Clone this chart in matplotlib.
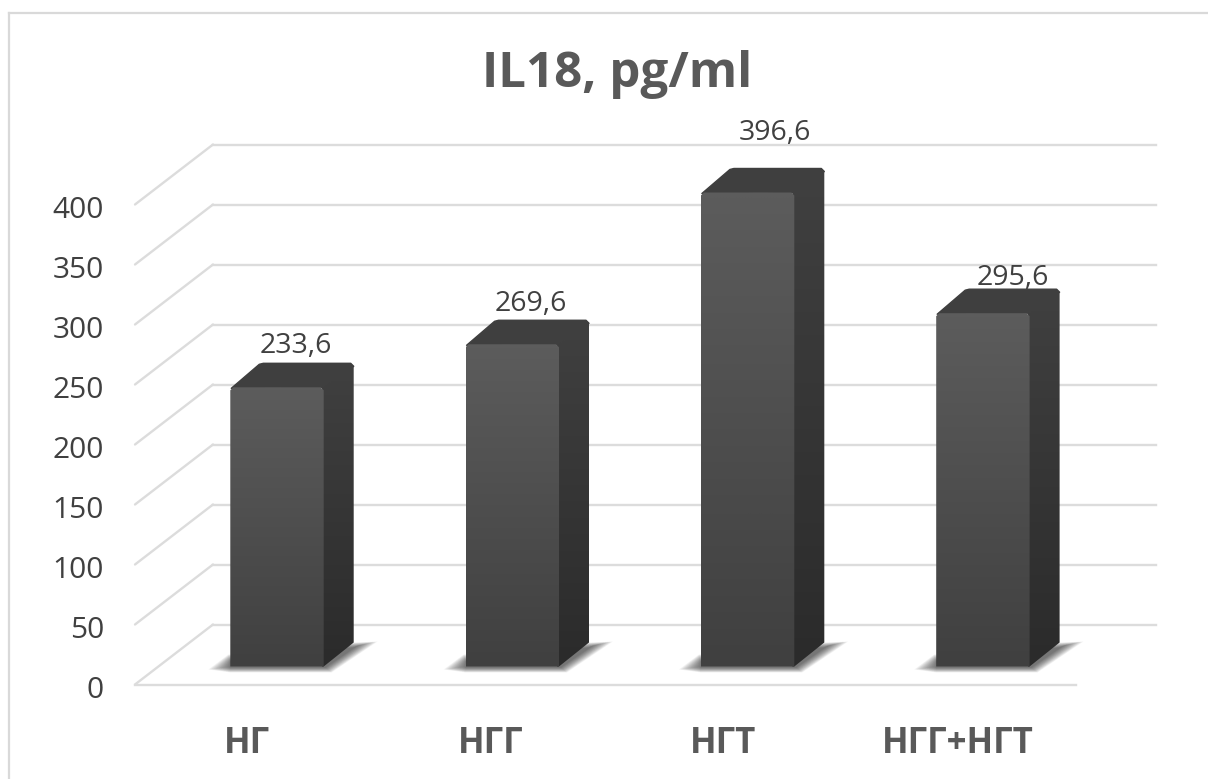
import numpy as np
import matplotlib
matplotlib.use("Agg")
import matplotlib.pyplot as plt
from matplotlib.patches import Polygon
from matplotlib.colors import LinearSegmentedColormap

categories = ["НГ", "НГГ", "НГТ", "НГГ+НГТ"]
values = [233.6, 269.6, 396.6, 295.6]
value_labels = ["233,6", "269,6", "396,6", "295,6"]
ticks = [0, 50, 100, 150, 200, 250, 300, 350, 400]
title = "IL18, pg/ml"

# hand-placed label offsets from each bar (pixels)
label_dx = [19, 18.5, 27, 30]
label_dy = [41, 40.5, 59, 35.5]
category_dx = [-30, -22, -25, -25]

W, H = 1208, 779
PX_Y = 1.2          # pixels per value unit
PX_X = 235.3        # pixels per category
X0_PX = 277.0
Y0_PX = 684.5

plt.rcParams['font.family'] = ['Open Sans', 'DejaVu Sans']
fig = plt.figure(figsize=(W / 100, H / 100), dpi=100, facecolor='white')
ax = fig.add_axes([0, 0, 1, 1])
ax.set_xlim(-X0_PX / PX_X, (W - X0_PX) / PX_X)
ax.set_ylim((Y0_PX - H) / PX_Y, Y0_PX / PX_Y)
ax.axis('off')

dx = lambda px: px / PX_X
dy = lambda px: px / PX_Y

# outer frame
frame = '#d9d9d9'
ax.plot([dx(9) - X0_PX / PX_X] * 2, [(Y0_PX - H) / PX_Y, dy(Y0_PX - 13)], color=frame, lw=1.6, zorder=1)
ax.plot([dx(9) - X0_PX / PX_X, (W - X0_PX) / PX_X], [dy(Y0_PX - 13)] * 2, color=frame, lw=1.6, zorder=1)

# gridlines: front floor edge, diagonal side wall, back wall
grid = '#dcdcdc'
left_front = dx(135 - X0_PX)
right_front = dx(1076 - X0_PX)
depth_x = dx(78)
depth_y = dy(60)
right_back = dx(1156 - X0_PX)
for t in ticks:
    ax.plot([left_front, left_front + depth_x], [t, t + depth_y], color=grid, lw=1.7, zorder=1,
            solid_capstyle='round')
    ax.plot([left_front + depth_x, right_back], [t + depth_y] * 2, color=grid, lw=1.7, zorder=1)
    ax.text(dx(104 - X0_PX), t - dy(6), str(t), ha='right', va='center', fontsize=21.5, color='#404040', zorder=5)
ax.plot([left_front, right_front], [0, 0], color=grid, lw=1.7, zorder=1)

# bars
BASE = dy(Y0_PX - 666.5)
SCALE = 0.996
half = dx(46.7)
bx, by = dx(30), dy(24)
cx, cy = dx(3), dy(3)

def gradient(poly, top, bottom, y0, y1, z):
    cm = LinearSegmentedColormap.from_list('g', [bottom, top])
    xs = [p[0] for p in poly]
    im = ax.imshow(np.linspace(1, 0, 64).reshape(-1, 1), cmap=cm, vmin=0, vmax=1, aspect='auto',
                   extent=[min(xs), max(xs), y0, y1], zorder=z, interpolation='bilinear')
    patch = Polygon(poly, closed=True, transform=ax.transData, fc='none', ec='none')
    ax.add_patch(patch)
    im.set_clip_path(patch)

xlim, ylim = ax.get_xlim(), ax.get_ylim()
LAYERS = 18
for i, (v, lab) in enumerate(zip(values, value_labels)):
    top = BASE + v * SCALE
    l, r = i - half, i + half
    # floor shadow: nested polygons from soft outer edge to dark inner core
    outer = np.array([(l - dx(22), BASE - dy(3)), (l - dx(2), BASE + dy(12)), (r + bx, BASE + by),
                      (r + bx + dx(24), BASE + by + dy(1)), (r + dx(8), BASE - dy(6)), (l, BASE - dy(6))])
    inner = np.array([(l, BASE), (l, BASE + dy(5)), (r + bx, BASE + by - dy(5)),
                      (r + bx + dx(4), BASE + by - dy(3)), (r + dx(2), BASE - dy(1)), (l, BASE - dy(1))])
    for k in range(LAYERS):
        t = k / (LAYERS - 1)
        ax.add_patch(Polygon(outer * (1 - t) + inner * t, closed=True, fc='black', ec='none',
                             alpha=0.04, zorder=2))
    # side face
    side = [(r - dx(2), BASE), (r, BASE), (r + bx, BASE + by), (r + bx, top + by - cy),
            (r + bx - cx, top + by), (r - dx(2), top)]
    gradient(side, '#404040', '#2b2b2b', BASE, top + by, 3)
    # top face
    tp = [(l + dx(1), top - dy(1)), (l + bx - dx(1), top + by - dy(1)), (l + bx + cx, top + by),
          (r + bx - cx, top + by), (r + bx, top + by - cy), (r, top)]
    ax.add_patch(Polygon(tp, closed=True, fc='#3f3f3f', ec='#3f3f3f', lw=1, joinstyle='round', zorder=3.5))
    # front face
    front = [(l, BASE), (l, top - cy), (l + cx, top), (r - cx, top), (r, top - cy), (r, BASE)]
    gradient(front, '#5c5c5c', '#404040', BASE, top, 4)
    ax.text(i + dx(label_dx[i]), top + dy(label_dy[i]), lab, ha='center', va='center', fontsize=20.5,
            color='#404040', zorder=6)
    ax.text(i + dx(category_dx[i]), dy(Y0_PX - 744), categories[i], ha='center', va='center', fontsize=25,
            fontweight='bold', color='#595959', zorder=6)

ax.set_xlim(xlim)
ax.set_ylim(ylim)
ax.text(dx(617 - X0_PX), dy(Y0_PX - 74), title, ha='center', va='center', fontsize=35.5,
        fontweight='bold', color='#595959', zorder=6)

fig.savefig('out.png', dpi=100, facecolor='white')
